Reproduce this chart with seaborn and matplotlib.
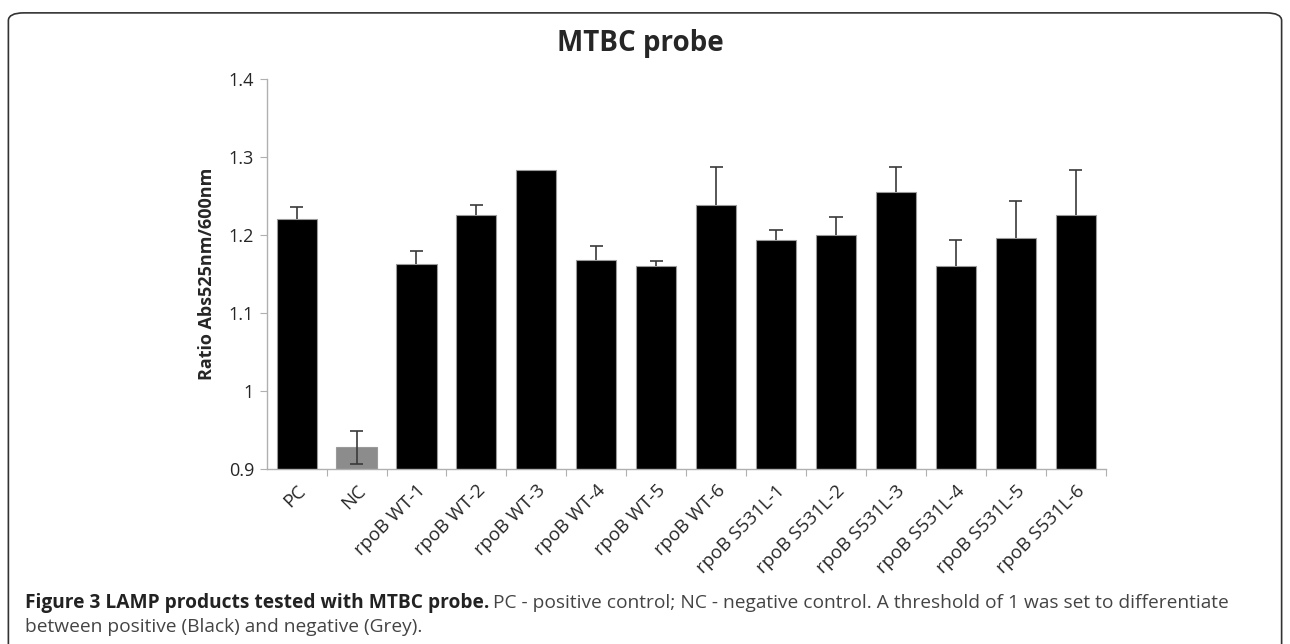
import matplotlib
matplotlib.use('Agg')
import matplotlib.pyplot as plt
import seaborn as sns
import numpy as np
import pandas as pd
from matplotlib.patches import FancyBboxPatch

# data
samples = ["PC", "NC", "rpoB WT-1", "rpoB WT-2", "rpoB WT-3", "rpoB WT-4",
           "rpoB WT-5", "rpoB WT-6", "rpoB S531L-1", "rpoB S531L-2",
           "rpoB S531L-3", "rpoB S531L-4", "rpoB S531L-5", "rpoB S531L-6"]
ratio = [1.221, 0.928, 1.163, 1.226, 1.283, 1.168, 1.160, 1.239,
         1.193, 1.200, 1.255, 1.160, 1.196, 1.226]
sd = [0.015, 0.021, 0.016, 0.013, 0.0, 0.018, 0.007, 0.048,
      0.013, 0.023, 0.032, 0.033, 0.047, 0.058]
threshold = 1.0

df = pd.DataFrame({"sample": samples, "ratio": ratio, "sd": sd})
df["group"] = np.where(df["ratio"] >= threshold, "positive", "negative")

sns.set_style("white")
plt.rcParams['font.family'] = ['Open Sans', 'DejaVu Sans']

fig = plt.figure(figsize=(12.9, 6.44), dpi=100)
ax = fig.add_axes([0.2067, 0.2717, 0.6504, 0.6056])

sns.barplot(data=df, x="sample", y="ratio", hue="group",
            palette={"positive": "black", "negative": "#8c8c8c"},
            width=0.67, dodge=False, legend=False, ax=ax,
            edgecolor="#9a9a9a", linewidth=0.8)

# error bars: upper arm on black bars, both arms on the grey one
xs = np.arange(len(df))
vals = df["ratio"].values
err = df["sd"].values
low = np.where(vals < threshold, vals - err, vals)
high = vals + err
keep = err > 0
ecol = "#3a3a3a"
ax.vlines(xs[keep], low[keep], high[keep], color=ecol, linewidth=1.2, zorder=5)
ax.hlines(high[keep], xs[keep] - 0.11, xs[keep] + 0.11, color=ecol, linewidth=1.2, zorder=5)
neg = keep & (vals < threshold)
ax.hlines(low[neg], xs[neg] - 0.11, xs[neg] + 0.11, color=ecol, linewidth=1.2, zorder=5)

ax.set_ylim(0.9, 1.4)
ax.set_xlim(-0.5, len(df) - 0.5)
ax.set_yticks([0.9, 1.0, 1.1, 1.2, 1.3, 1.4])
ax.set_yticklabels(["0.9", "1", "1.1", "1.2", "1.3", "1.4"], fontsize=13)
ax.set_ylabel("Ratio Abs525nm/600nm", fontsize=13, fontweight="bold", labelpad=9)
ax.set_xlabel("")

# category ticks sit between bars, labels centred under bars
ax.set_xticks(np.arange(len(df)) + 0.5, minor=False)
ax.set_xticklabels([])
ax.set_xticks(np.arange(len(df)), minor=True)
ax.set_xticklabels(samples, minor=True, rotation=45, ha="right",
                   rotation_mode="anchor", fontsize=13.5)
ax.tick_params(axis="x", which="minor", length=0, pad=9)
ax.tick_params(axis="x", which="major", length=5, color="#b0b0b0", direction="out")
ax.tick_params(axis="y", length=5, color="#b0b0b0", direction="out", pad=4)
ax.tick_params(bottom=True, left=True)

sns.despine(ax=ax)
for side in ["left", "bottom"]:
    ax.spines[side].set_color("#b0b0b0")
    ax.spines[side].set_linewidth(1)

fig.text(0.4965, 0.933, "MTBC probe", ha="center", va="center",
         fontsize=20, fontweight="bold")

# caption: bold lead-in followed by regular text on the same line
cap_font = ['Open Sans', 'DejaVu Sans']
t1 = fig.text(0.019, 0.064, "Figure 3 LAMP products tested with MTBC probe.",
              fontsize=13.8, fontweight="bold", color="#222222", va="center",
              family=cap_font)
fig.canvas.draw()
bb = t1.get_window_extent(renderer=fig.canvas.get_renderer())
x_next = (bb.x1 + 4) / fig.bbox.width
fig.text(x_next, 0.064, "PC - positive control; NC - negative control. A threshold of 1 was set to differentiate",
         fontsize=13.8, color="#444444", va="center", family=cap_font)
fig.text(0.019, 0.026, "between positive (Black) and negative (Grey).",
         fontsize=13.8, color="#444444", va="center", family=cap_font)

# rounded frame around the figure panel
frame = FancyBboxPatch((0.0065, -0.05), 0.987, 1.03,
                       boxstyle="round,pad=0,rounding_size=0.012",
                       transform=fig.transFigure, fill=False,
                       edgecolor="#333333", linewidth=1.2)
fig.patches.append(frame)

fig.savefig("out.png", dpi=100)
plt.close(fig)
